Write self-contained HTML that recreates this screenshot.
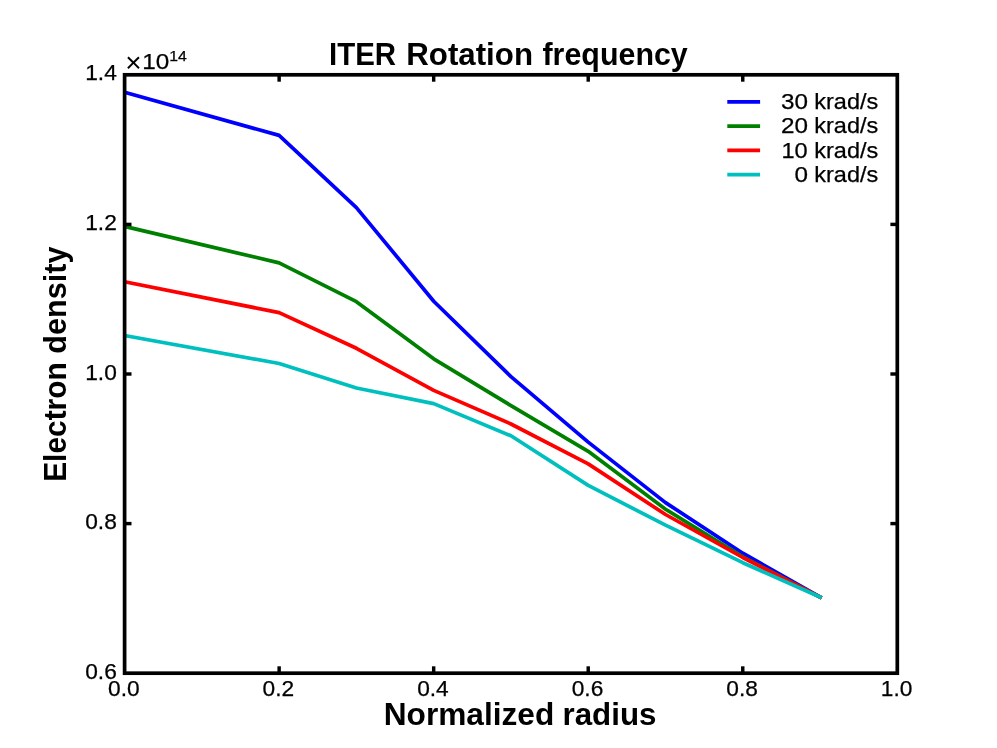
<!DOCTYPE html>
<html lang="en">
<head>
<meta charset="utf-8">
<title>ITER Rotation frequency</title>
<style>
html,body{margin:0;padding:0;background:#fff;}
body{width:997px;height:748px;overflow:hidden;}
svg{display:block;will-change:transform;}
text{font-family:"Liberation Sans",sans-serif;fill:#000;stroke:#000;stroke-width:0.25px;}
.b{font-weight:bold;stroke:none;}
</style>
</head>
<body>
<svg width="997" height="748" viewBox="0 0 997 748">
<rect x="0" y="0" width="997" height="748" fill="#ffffff"/>
<defs><clipPath id="ax"><rect x="124.6" y="74.8" width="772.70" height="598.40"/></clipPath></defs>
<g clip-path="url(#ax)" fill="none" stroke-width="3.7" stroke-linejoin="round" stroke-linecap="square">
<polyline points="124.60,92.30 279.10,135.40 356.40,207.60 433.70,301.20 510.95,376.60 588.20,442.10 665.50,502.60 742.80,553.20 820.00,597.00" stroke="#0000ff"/>
<polyline points="124.60,226.40 279.10,262.90 356.40,301.70 433.70,358.80 510.95,405.60 588.20,451.30 665.50,509.20 742.80,556.90 820.00,597.00" stroke="#008000"/>
<polyline points="124.60,281.80 279.10,312.60 356.40,348.30 433.70,390.40 510.95,424.00 588.20,463.90 665.50,514.50 742.80,557.50 820.00,597.00" stroke="#ff0000"/>
<polyline points="124.60,335.50 279.10,363.50 356.40,388.00 433.70,403.60 510.95,435.80 588.20,485.40 665.50,525.20 742.80,562.70 820.00,597.00" stroke="#00bfbf"/>
</g>
<g stroke="#000" stroke-width="3.45" fill="none">
<line x1="279.14" y1="673.2" x2="279.14" y2="666.30"/><line x1="279.14" y1="74.8" x2="279.14" y2="81.70"/>
<line x1="433.68" y1="673.2" x2="433.68" y2="666.30"/><line x1="433.68" y1="74.8" x2="433.68" y2="81.70"/>
<line x1="588.22" y1="673.2" x2="588.22" y2="666.30"/><line x1="588.22" y1="74.8" x2="588.22" y2="81.70"/>
<line x1="742.76" y1="673.2" x2="742.76" y2="666.30"/><line x1="742.76" y1="74.8" x2="742.76" y2="81.70"/>
<line x1="124.6" y1="523.60" x2="131.50" y2="523.60"/><line x1="897.3" y1="523.60" x2="890.40" y2="523.60"/>
<line x1="124.6" y1="374.00" x2="131.50" y2="374.00"/><line x1="897.3" y1="374.00" x2="890.40" y2="374.00"/>
<line x1="124.6" y1="224.40" x2="131.50" y2="224.40"/><line x1="897.3" y1="224.40" x2="890.40" y2="224.40"/>
</g>
<rect x="124.6" y="74.8" width="772.70" height="598.40" fill="none" stroke="#000" stroke-width="3.7" stroke-linejoin="miter"/>
<text x="123.90" y="695.8" font-size="22.6" text-anchor="middle" textLength="31.6" lengthAdjust="spacingAndGlyphs">0.0</text>
<text x="278.44" y="695.8" font-size="22.6" text-anchor="middle" textLength="31.6" lengthAdjust="spacingAndGlyphs">0.2</text>
<text x="432.98" y="695.8" font-size="22.6" text-anchor="middle" textLength="31.6" lengthAdjust="spacingAndGlyphs">0.4</text>
<text x="587.52" y="695.8" font-size="22.6" text-anchor="middle" textLength="31.6" lengthAdjust="spacingAndGlyphs">0.6</text>
<text x="742.06" y="695.8" font-size="22.6" text-anchor="middle" textLength="31.6" lengthAdjust="spacingAndGlyphs">0.8</text>
<text x="896.60" y="695.8" font-size="22.6" text-anchor="middle" textLength="31.6" lengthAdjust="spacingAndGlyphs">1.0</text>
<text x="116.8" y="79.80" font-size="22.6" text-anchor="end" textLength="31.6" lengthAdjust="spacingAndGlyphs">1.4</text>
<text x="116.8" y="229.80" font-size="22.6" text-anchor="end" textLength="31.6" lengthAdjust="spacingAndGlyphs">1.2</text>
<text x="116.8" y="379.80" font-size="22.6" text-anchor="end" textLength="31.6" lengthAdjust="spacingAndGlyphs">1.0</text>
<text x="116.8" y="528.80" font-size="22.6" text-anchor="end" textLength="31.6" lengthAdjust="spacingAndGlyphs">0.8</text>
<text x="116.8" y="678.80" font-size="22.6" text-anchor="end" textLength="31.6" lengthAdjust="spacingAndGlyphs">0.6</text>
<text y="68.8"><tspan x="125.2" y="71.6" font-size="28" stroke="none">×</tspan><tspan x="142.2" y="68.8" font-size="22.6" textLength="27.0" lengthAdjust="spacingAndGlyphs">10</tspan><tspan x="169.2" y="61.0" font-size="15.4" textLength="17.6" lengthAdjust="spacingAndGlyphs">14</tspan></text>
<text class="b" y="65.3" font-size="30.6"><tspan x="329.00" textLength="67.00" lengthAdjust="spacingAndGlyphs">ITER</tspan> <tspan x="406.25" textLength="126.75" lengthAdjust="spacingAndGlyphs">Rotation</tspan> <tspan x="542.50" textLength="145.25" lengthAdjust="spacingAndGlyphs">frequency</tspan></text>
<text class="b" y="725" font-size="30.6"><tspan x="383.75" textLength="170.50" lengthAdjust="spacingAndGlyphs">Normalized</tspan> <tspan x="562.50" textLength="94.00" lengthAdjust="spacingAndGlyphs">radius</tspan></text>
<text class="b" transform="translate(65.9,479.8) rotate(-90)" y="0" font-size="30.6"><tspan x="-2.00" textLength="119.50" lengthAdjust="spacingAndGlyphs">Electron</tspan> <tspan x="126.00" textLength="107.25" lengthAdjust="spacingAndGlyphs">density</tspan></text>
<line x1="727.3" y1="101.9" x2="760.1" y2="101.9" stroke="#0000ff" stroke-width="3.6"/>
<line x1="727.3" y1="126.15" x2="760.1" y2="126.15" stroke="#008000" stroke-width="3.6"/>
<line x1="727.3" y1="150.4" x2="760.1" y2="150.4" stroke="#ff0000" stroke-width="3.6"/>
<line x1="727.3" y1="174.65" x2="760.1" y2="174.65" stroke="#00bfbf" stroke-width="3.6"/>
<text y="108.7" font-size="22.4"><tspan x="781.00" textLength="27.00" lengthAdjust="spacingAndGlyphs">30</tspan> <tspan x="814.25" textLength="64.00" lengthAdjust="spacingAndGlyphs">krad/s</tspan></text>
<text y="132.8" font-size="22.4"><tspan x="781.00" textLength="27.00" lengthAdjust="spacingAndGlyphs">20</tspan> <tspan x="814.25" textLength="64.00" lengthAdjust="spacingAndGlyphs">krad/s</tspan></text>
<text y="157.7" font-size="22.4"><tspan x="781.50" textLength="26.25" lengthAdjust="spacingAndGlyphs">10</tspan> <tspan x="814.25" textLength="64.00" lengthAdjust="spacingAndGlyphs">krad/s</tspan></text>
<text y="181.7" font-size="22.4"><tspan x="794.50" textLength="13.50" lengthAdjust="spacingAndGlyphs">0</tspan> <tspan x="814.25" textLength="64.00" lengthAdjust="spacingAndGlyphs">krad/s</tspan></text>
</svg>
</body>
</html>
